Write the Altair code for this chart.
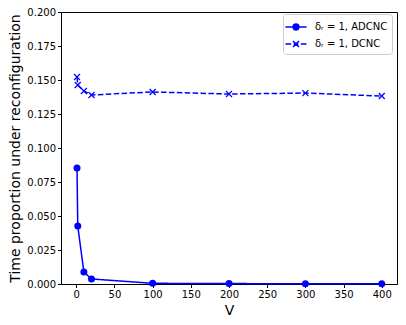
import altair as alt
import pandas as pd

V = [1, 2, 10, 20, 100, 200, 300, 400]
adcnc = [0.0853, 0.0426, 0.0088, 0.0037, 0.0005, 0.0003, 0.0002, 0.0001]
dcnc = [0.1522, 0.1463, 0.1419, 0.1390, 0.1412, 0.1397, 0.1404, 0.1382]
series_names = ["δᵣ = 1, ADCNC", "δᵣ = 1, DCNC"]

rows = []
for v, a in zip(V, adcnc):
    rows.append({"V": v, "y": a, "s": series_names[0], "dash": "solid"})
for v, d in zip(V, dcnc):
    rows.append({"V": v, "y": d, "s": series_names[1], "dash": "dashed"})
df = pd.DataFrame(rows)

xenc = alt.X("V:Q", scale=alt.Scale(domain=[-19.95, 419.95], nice=False, zero=False),
             axis=alt.Axis(values=list(range(0, 401, 50)), title="V"))
yenc = alt.Y("y:Q", scale=alt.Scale(domain=[0, 0.2], nice=False),
             axis=alt.Axis(values=[i * 0.025 for i in range(9)], format=".3f",
                           title="Time proportion under reconfiguration"))

base = alt.Chart(df)

lines = base.mark_line(color="blue", strokeWidth=1.5).encode(
    x=xenc, y=yenc,
    strokeDash=alt.StrokeDash("dash:N", scale=alt.Scale(domain=["solid", "dashed"], range=[[1, 0], [5.5, 2.4]]), legend=None),
)

circles = base.mark_point(color="blue", filled=True, size=49, opacity=1).encode(
    x=xenc, y=yenc, shape=alt.value("circle"),
).transform_filter(alt.datum.s == series_names[0])

crosses = base.mark_point(color="blue", filled=False, size=36, strokeWidth=1.2, opacity=1).encode(
    x=xenc, y=yenc, shape=alt.value("M-1,-1L1,1M-1,1L1,-1"),
).transform_filter(alt.datum.s == series_names[1])


def ring(r):
    return f"M{r},0A{r},{r},0,1,1,-{r},0A{r},{r},0,1,1,{r},0Z"


leg_paths = [
    "M-1.3125,0H1.3125" + ring(0.36) + ring(0.18) + ring(0.03),
    "M-1.3125,0H-0.6M-0.3,0H0.3M0.6,0H1.3125M-0.375,-0.375L0.375,0.375M-0.375,0.375L0.375,-0.375",
]
legend_layer = base.mark_point(size=0, filled=False, color="blue", strokeWidth=1.5).encode(
    x=xenc, y=yenc,
    shape=alt.Shape("s:N", scale=alt.Scale(domain=series_names, range=leg_paths),
                    legend=alt.Legend(title=None, orient="none", legendX=222, legendY=2,
                                      symbolSize=256,
                                      symbolStrokeColor="blue", symbolStrokeWidth=1.5,
                                      symbolOpacity=1, labelOffset=10,
                                      labelFontSize=10, labelFont="DejaVu Sans",
                                      labelColor="black", rowPadding=2,
                                      padding=4, fillColor="white",
                                      strokeColor="#cccccc", cornerRadius=3)),
)

chart = alt.layer(lines, circles, crosses, legend_layer).properties(
    width=336, height=272,
    autosize=alt.AutoSizeParams(type="none"),
    padding={"left": 53, "top": 4, "right": 1, "bottom": 33},
).configure_view(stroke="black", strokeWidth=1).configure_axis(
    grid=False, labelFont="DejaVu Sans", labelFontSize=10, labelColor="black",
    tickColor="black", tickSize=3.5, domainColor="black", labelPadding=2,
    titleFont="DejaVu Sans", titleFontSize=14, titleFontWeight="normal", titleColor="black",
).configure_axisY(titlePadding=4).configure_axisX(titlePadding=4)

chart.save("out.html", embed_options={"renderer": "svg", "actions": False})
